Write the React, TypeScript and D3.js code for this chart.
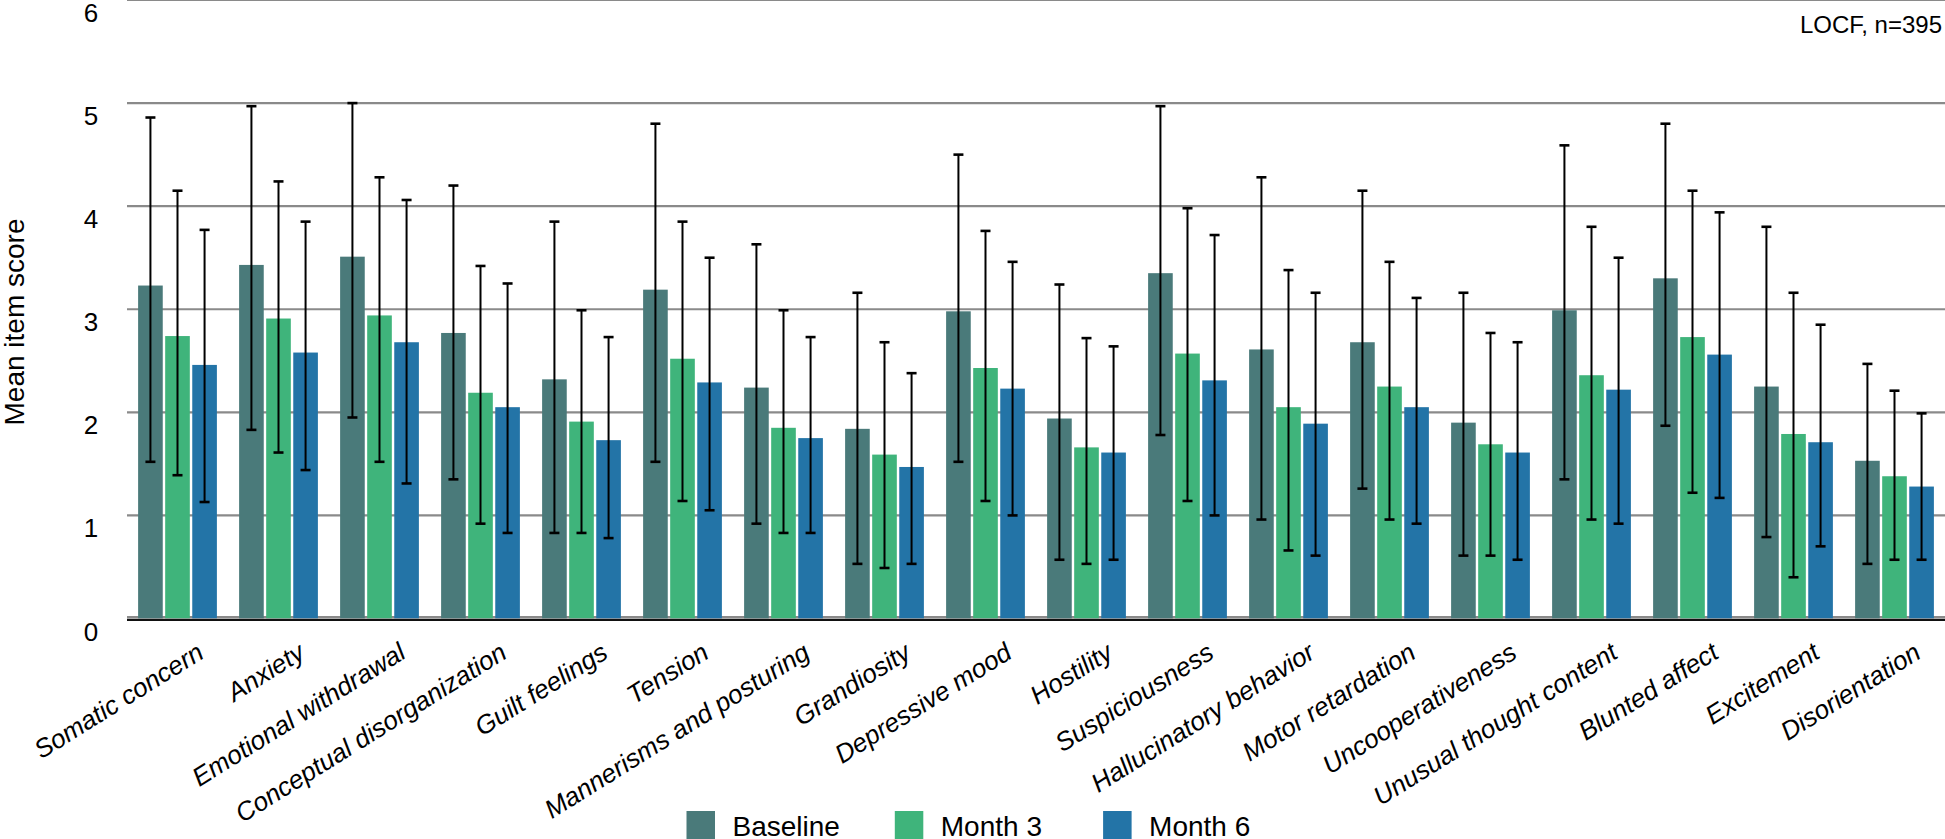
import React from "react";
import * as d3 from "d3";

const categories = [
  "Somatic concern", "Anxiety", "Emotional withdrawal", "Conceptual disorganization",
  "Guilt feelings", "Tension", "Mannerisms and posturing", "Grandiosity",
  "Depressive mood", "Hostility", "Suspiciousness", "Hallucinatory behavior",
  "Motor retardation", "Uncooperativeness", "Unusual thought content",
  "Blunted affect", "Excitement", "Disorientation",
];
const seriesNames = ["Baseline", "Month 3", "Month 6"];
const seriesColors = ["#4a7a7a", "#3fb47b", "#2374a7"];

const baseline = [3.23, 3.43, 3.51, 2.77, 2.32, 3.19, 2.24, 1.84, 2.98, 1.94, 3.35, 2.61, 2.68, 1.90, 2.99, 3.30, 2.25, 1.53];
const month3 = [2.74, 2.91, 2.94, 2.19, 1.91, 2.52, 1.85, 1.59, 2.43, 1.66, 2.57, 2.05, 2.25, 1.69, 2.36, 2.73, 1.79, 1.38];
const month6 = [2.46, 2.58, 2.68, 2.05, 1.73, 2.29, 1.75, 1.47, 2.23, 1.61, 2.31, 1.89, 2.05, 1.61, 2.22, 2.56, 1.71, 1.28];

const baselineHi = [4.86, 4.97, 5.0, 4.2, 3.85, 4.8, 3.63, 3.16, 4.5, 3.24, 4.97, 4.28, 4.15, 3.16, 4.59, 4.8, 3.8, 2.47];
const baselineLo = [1.52, 1.83, 1.95, 1.35, 0.83, 1.52, 0.92, 0.53, 1.52, 0.57, 1.78, 0.96, 1.26, 0.61, 1.35, 1.87, 0.79, 0.53];
const month3Hi = [4.15, 4.24, 4.28, 3.42, 2.99, 3.85, 2.99, 2.68, 3.76, 2.72, 3.98, 3.38, 3.46, 2.77, 3.8, 4.15, 3.16, 2.21];
const month3Lo = [1.39, 1.61, 1.52, 0.92, 0.83, 1.14, 0.83, 0.49, 1.14, 0.53, 1.14, 0.66, 0.96, 0.61, 0.96, 1.22, 0.4, 0.57];
const month6Hi = [3.77, 3.85, 4.06, 3.25, 2.73, 3.5, 2.73, 2.38, 3.46, 2.64, 3.72, 3.16, 3.11, 2.68, 3.5, 3.94, 2.85, 1.99];
const month6Lo = [1.13, 1.44, 1.31, 0.83, 0.78, 1.05, 0.83, 0.53, 1.0, 0.57, 1.0, 0.61, 0.92, 0.57, 0.92, 1.17, 0.7, 0.57];

const yTicks = [0, 1, 2, 3, 4, 5, 6];
const note = "LOCF, n=395";
const yTitle = "Mean item score";

const W = 1945;
const H = 839;
const FONT = "'Liberation Sans', Arial, Helvetica, sans-serif";

export default function App() {
  const values = [baseline, month3, month6];
  const his = [baselineHi, month3Hi, month6Hi];
  const los = [baselineLo, month3Lo, month6Lo];

  const x0 = d3.scaleBand<string>().domain(categories).range([127, 1945]).paddingInner(0.22).paddingOuter(0.11);
  const x1 = d3.scaleBand<string>().domain(seriesNames).range([0, x0.bandwidth()]).paddingInner(0.09);
  const y = d3.scaleLinear().domain([0, 6]).range([618.5, 0]);
  const left = 127;

  return (
    <svg width={W} height={H} style={{ position: "absolute", left: 0, top: 0, background: "#fff" }} fontFamily={FONT}>
      {yTicks.map((t) => (
        <line key={"g" + t} x1={left} x2={W} y1={t === 0 ? 617.2 : y(t)} y2={t === 0 ? 617.2 : y(t)} stroke="#8a8a8a" strokeWidth={2.2} />
      ))}
      {yTicks.map((t) => (
        <text key={"t" + t} x={91} y={y(t) + 22} textAnchor="middle" fontSize={26} fill="#000">{t}</text>
      ))}
      <text transform={`translate(24,${322}) rotate(-90)`} textAnchor="middle" fontSize={28} fill="#000">{yTitle}</text>
      {categories.map((c, i) => (
        <g key={c} transform={`translate(${x0(c)},0)`}>
          {seriesNames.map((s, k) => (
            <rect key={s} x={x1(s)} y={y(values[k][i])} width={x1.bandwidth()} height={618.3 - y(values[k][i])} fill={seriesColors[k]} />
          ))}
        </g>
      ))}
      <line x1={left} x2={W} y1={619.8} y2={619.8} stroke="#111" strokeWidth={2.2} />
      {categories.map((c, i) => (
        <g key={"e" + c} transform={`translate(${x0(c)},0)`}>
          {seriesNames.map((s, k) => {
            const cx = (x1(s) as number) + x1.bandwidth() / 2;
            const yh = y(his[k][i]);
            const yl = y(los[k][i]);
            return (
              <g key={s}>
                <line x1={cx} x2={cx} y1={yh} y2={yl} stroke="#000" strokeWidth={2} />
                <line x1={cx - 5} x2={cx + 5} y1={yh} y2={yh} stroke="#000" strokeWidth={2.6} />
                <line x1={cx - 5} x2={cx + 5} y1={yl} y2={yl} stroke="#000" strokeWidth={2.6} />
              </g>
            );
          })}
        </g>
      ))}
      {categories.map((c) => {
        const cx = (x0(c) as number) + x0.bandwidth() / 2;
        return (
          <text key={"l" + c} transform={`translate(${cx + 28},${657}) rotate(-32)`} textAnchor="end" fontSize={26} fontStyle="italic" fill="#000">{c}</text>
        );
      })}
      <text x={1942} y={33} textAnchor="end" fontSize={24} fill="#000">{note}</text>
      {seriesNames.map((s, k) => {
        const lx = 686.5 + k * 208.3;
        return (
          <g key={"lg" + s}>
            <rect x={lx} y={811} width={28.5} height={28} fill={seriesColors[k]} />
            <text x={lx + 46} y={836} fontSize={28} fill="#000">{s}</text>
          </g>
        );
      })}
    </svg>
  );
}
